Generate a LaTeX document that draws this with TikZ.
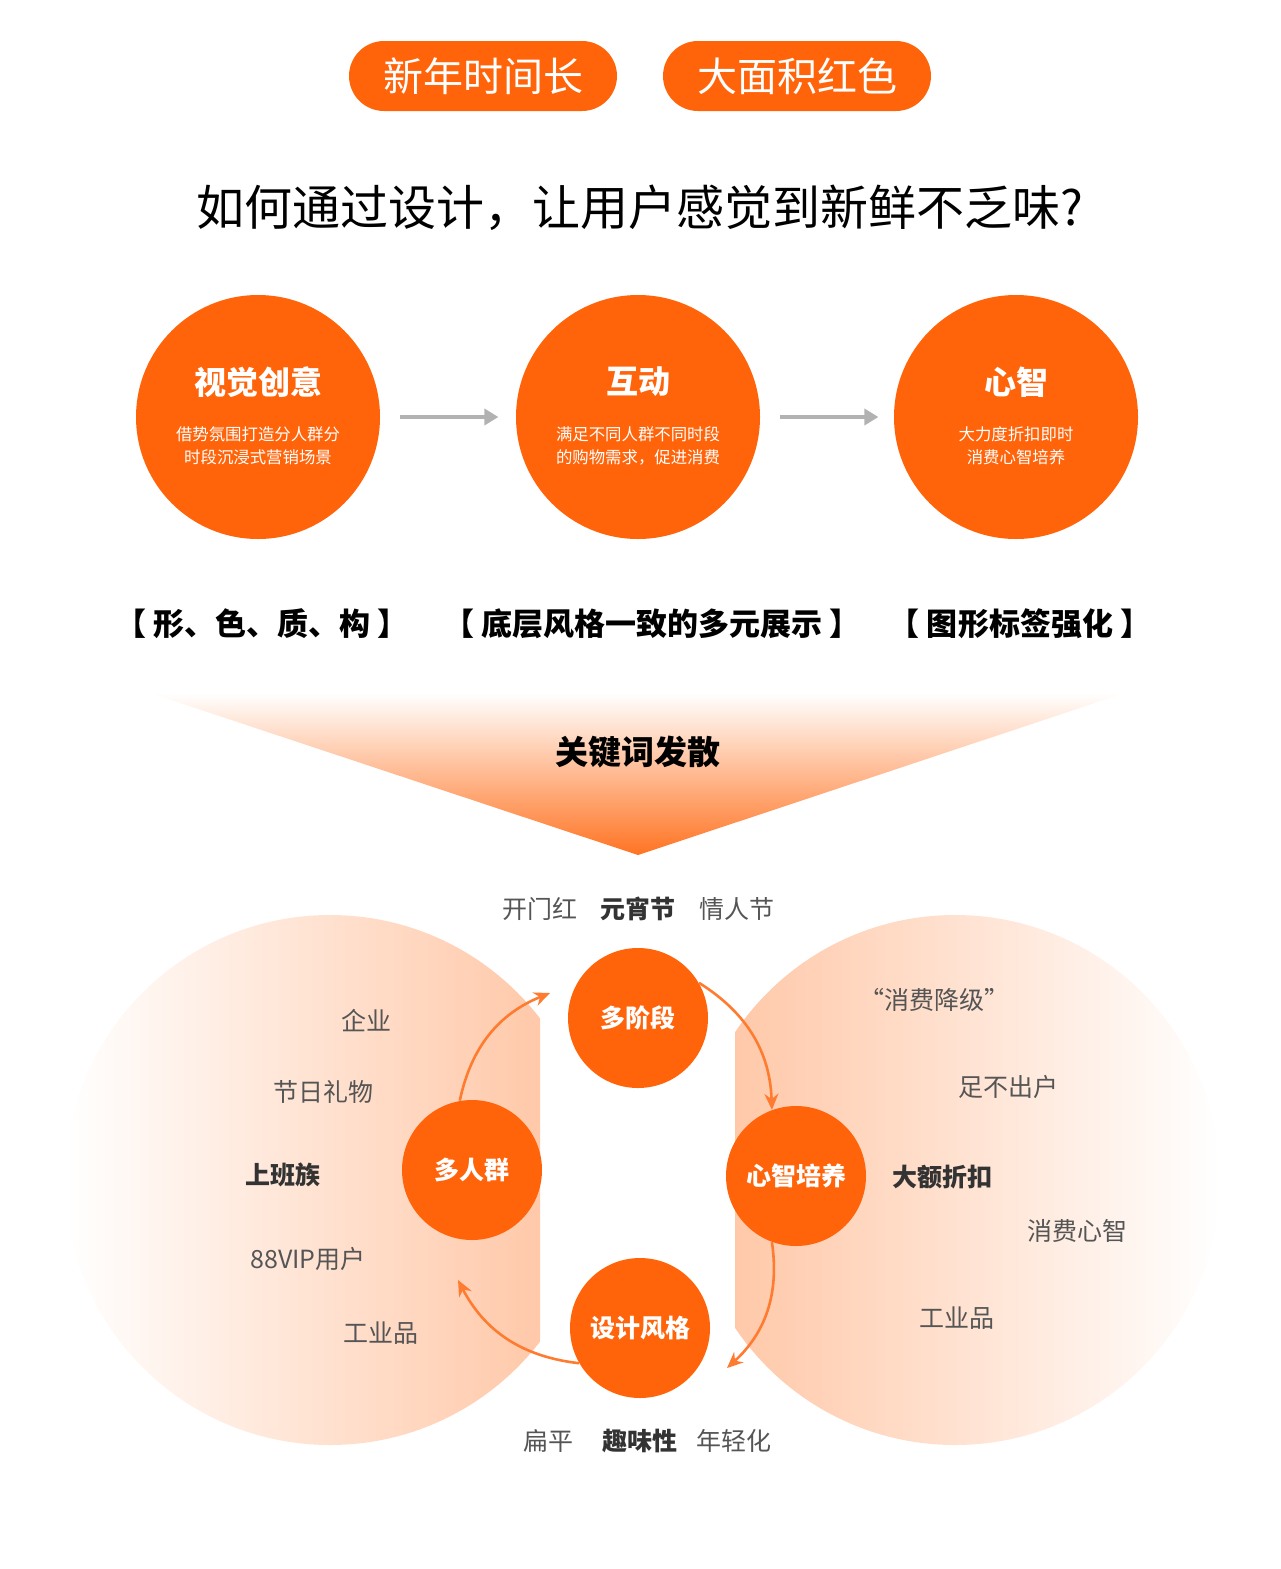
\documentclass[tikz,border=0pt]{standalone}
\usepackage{fontspec}
\setmainfont{Noto Sans CJK SC}
\usetikzlibrary{arrows.meta}
\definecolor{orng}{HTML}{FF640A}
\definecolor{wgrey}{HTML}{555555}
\tikzset{
  pill/.style={fill=orng, rounded corners=17.5pt, minimum width=134pt, minimum height=35pt, text=white, font=\fontsize{20}{22}\selectfont},
  bigcirc/.style={circle, fill=orng, minimum size=122pt, inner sep=0pt},
  smallcirc/.style={circle, fill=orng, minimum size=70pt, inner sep=0pt, text=white, font=\bfseries\fontsize{12.5}{14}\selectfont},
  ctitle/.style={text=white, font=\bfseries\fontsize{16}{18}\selectfont},
  ctext/.style={text=white, align=center, font=\fontsize{8.2}{11.5}\selectfont},
  bracket/.style={font=\bfseries\fontsize{15.5}{18}\selectfont},
  word/.style={text=wgrey, font=\fontsize{12.5}{14}\selectfont},
  bword/.style={text=black!80, font=\bfseries\fontsize{12.5}{14}\selectfont},
  flow/.style={draw=gray!60, line width=2pt, -{Triangle[length=7pt,width=8pt]}},
  cyc/.style={draw=orng!85, line width=1.3pt, -{Stealth[length=8pt,width=7pt]}},
}
\begin{document}
\begin{tikzpicture}[x=0.5pt,y=-0.5pt]
\useasboundingbox (0,0) rectangle (1280,1569);
% top pills and title
\node[pill] (p1) at (483,76) {新年时间长};
\node[pill] (p2) at (797,76) {大面积红色};
\node[font=\fontsize{24}{26}\selectfont] (title) at (640,208) {如何通过设计，让用户感觉到新鲜不乏味?};
% three big circles
\node[bigcirc] (c1) at (258,417) {};
\node[bigcirc] (c2) at (638,417) {};
\node[bigcirc] (c3) at (1016,417) {};
\node[ctitle] (t1) at (258,382) {视觉创意};
\node[ctitle] (t2) at (638,382) {互动};
\node[ctitle] (t3) at (1016,382) {心智};
\node[ctext] (d1) at (258,446) {借势氛围打造分人群分\\时段沉浸式营销场景};
\node[ctext] (d2) at (638,446) {满足不同人群不同时段\\的购物需求，促进消费};
\node[ctext] (d3) at (1016,446) {大力度折扣即时\\消费心智培养};
\draw[flow] (c1.east) ++(20,0) coordinate (a1) -- ++(98,0) coordinate (a2);
\draw[flow] (c2.east) ++(20,0) coordinate (b1) -- ++(98,0) coordinate (b2);
% brackets
\node[bracket] (k1) at (262,624) {【 形、色、质、构 】};
\node[bracket] (k2) at (652,624) {【 底层风格一致的多元展示 】};
\node[bracket] (k3) at (1020,624) {【 图形标签强化 】};
% funnel
\shade[top color=white, bottom color=orng!90] (150,693) -- (1125,693) -- (638,855) -- cycle;
\node[font=\bfseries\fontsize{16.5}{18}\selectfont] (kw) at (638,752) {关键词发散};
% faded side circles
\begin{scope}
\clip (330,1180) circle (265);
\shade[left color=white, right color=orng!35] (65,915) rectangle (540,1445);
\end{scope}
\begin{scope}
\clip (955,1180) circle (265);
\shade[left color=orng!35, right color=white] (735,915) rectangle (1220,1445);
\end{scope}
% cycle
\node[smallcirc] (s1) at (638,1018) {多阶段};
\node[smallcirc] (s2) at (472,1170) {多人群};
\node[smallcirc] (s3) at (796,1176) {心智培养};
\node[smallcirc] (s4) at (640,1328) {设计风格};
\draw[cyc] (s2.100) to[bend left=28] (550,993);
\draw[cyc] (s1.30) to[bend left=28] (s3.110);
\draw[cyc] (s3.-110) to[bend left=28] (727,1368);
\draw[cyc] (s4.210) to[bend left=28] (458,1280);
% keywords
\node[word] (w1) at (540,909) {开门红};
\node[bword] (w2) at (638,909) {元宵节};
\node[word] (w3) at (737,909) {情人节};
\node[word] (w4) at (366,1021) {企业};
\node[word] (w5) at (323,1092) {节日礼物};
\node[bword] (w6) at (283,1175) {上班族};
\node[word] (w7) at (308,1259) {88VIP用户};
\node[word] (w8) at (381,1333) {工业品};
\node[word] (w9) at (934,1000) {“消费降级”};
\node[word] (w10) at (1008,1087) {足不出户};
\node[bword] (w11) at (942,1177) {大额折扣};
\node[word] (w12) at (1077,1231) {消费心智};
\node[word] (w13) at (957,1318) {工业品};
\node[word] (w14) at (548,1441) {扁平};
\node[bword] (w15) at (640,1441) {趣味性};
\node[word] (w16) at (734,1441) {年轻化};
\end{tikzpicture}
\end{document}
